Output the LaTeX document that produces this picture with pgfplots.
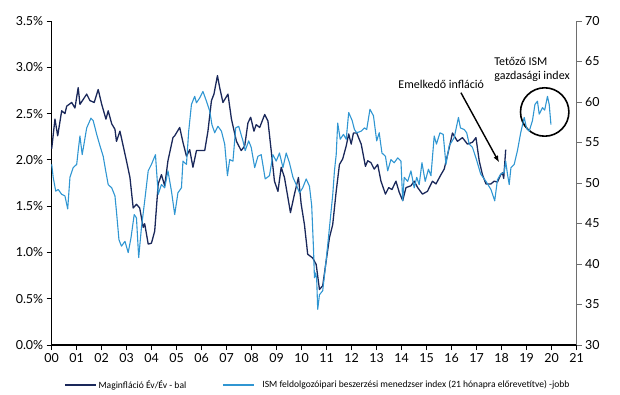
\documentclass[border=0pt]{standalone}
\usepackage{fontspec}
\setmainfont{Lato}
\newfontfamily\annot{Carlito}
\usepackage{pgfplots}
\pgfplotsset{compat=1.18}
\usetikzlibrary{arrows.meta}
\definecolor{darkline}{RGB}{26,40,90}
\definecolor{lightline}{RGB}{48,150,210}
\definecolor{raxis}{RGB}{110,110,110}

\begin{document}
\begin{tikzpicture}
\path[use as bounding box] (0bp,0bp) rectangle (620bp,395bp);
\pgfplotsset{
  common/.style={
    scale only axis, width=525bp, height=324bp,
    at={(51.7bp,50bp)}, anchor=south west,
    xmin=0, xmax=21,
    tick align=outside, major tick length=5bp,
    /pgf/number format/assume math mode=true,
    ticklabel style={font=\fontsize{12.5}{14}\selectfont},
    axis line style={-},
    clip=false,
  }
}
\begin{axis}[common,
  axis x line*=bottom, axis y line*=left,
  ymin=0, ymax=3.5,
  ytick={0,0.5,1,1.5,2,2.5,3,3.5},
  yticklabels={0.0\%,0.5\%,1.0\%,1.5\%,2.0\%,2.5\%,3.0\%,3.5\%},
  xtick={0,1,...,21},
  xticklabels={00,01,02,03,04,05,06,07,08,09,10,11,12,13,14,15,16,17,18,19,20,21},
  x axis line style={line width=1.6bp, black},
  y axis line style={line width=0.9bp, black},
  xtick style={black, line width=0.8bp},
  ytick style={black, line width=0.8bp},
]
\addplot[darkline, line width=1.3bp, line join=round, no marks] table {
0.00 2.12
0.13 2.44
0.24 2.26
0.40 2.53
0.53 2.50
0.60 2.58
0.80 2.62
0.93 2.56
1.06 2.78
1.13 2.60
1.40 2.71
1.53 2.64
1.70 2.62
1.86 2.76
2.00 2.60
2.17 2.44
2.26 2.53
2.40 2.39
2.53 2.33
2.59 2.20
2.73 2.31
2.86 2.15
2.99 1.99
3.13 1.81
3.26 1.48
3.39 1.52
3.52 1.48
3.66 1.27
3.72 1.31
3.86 1.09
3.99 1.10
4.12 1.23
4.26 1.74
4.39 1.84
4.52 1.72
4.65 1.99
4.85 2.24
4.92 2.26
5.12 2.35
5.25 2.19
5.39 2.04
5.52 2.11
5.65 1.92
5.79 2.10
6.12 2.10
6.25 2.31
6.39 2.64
6.49 2.71
6.63 2.91
6.72 2.78
6.85 2.62
7.05 2.71
7.19 2.44
7.39 2.20
7.58 2.10
7.72 2.15
7.85 2.40
7.96 2.46
8.09 2.31
8.18 2.38
8.32 2.35
8.52 2.49
8.65 2.42
8.78 2.10
8.91 1.77
9.05 1.66
9.18 1.92
9.31 1.81
9.45 1.59
9.55 1.43
9.71 1.63
9.87 1.81
9.98 1.52
10.11 1.30
10.24 0.98
10.44 0.94
10.58 0.87
10.71 0.60
10.84 0.64
10.98 0.91
11.11 1.16
11.24 1.30
11.38 1.66
11.51 1.95
11.64 2.01
11.78 2.15
11.88 2.28
11.98 2.17
12.07 2.29
12.20 2.29
12.38 2.17
12.55 1.93
12.64 1.99
12.77 1.97
12.90 1.90
13.04 1.95
13.17 1.77
13.35 1.63
13.48 1.70
13.61 1.68
13.77 1.77
13.90 1.65
14.04 1.56
14.17 1.70
14.37 1.72
14.50 1.77
14.64 1.70
14.83 1.63
15.03 1.66
15.23 1.77
15.37 1.74
15.57 1.84
15.70 1.90
15.90 2.13
16.03 2.29
16.23 2.20
16.43 2.24
16.63 2.17
16.83 2.19
16.97 2.24
17.10 1.99
17.23 1.84
17.37 1.74
17.57 1.74
17.70 1.77
17.83 1.76
17.96 1.84
18.03 1.86
18.08 1.80
18.16 2.11
};
% annotations
\node[font=\annot\fontsize{12}{14}\selectfont, anchor=center] at (axis cs:15.58,2.82) {Emelkedő infláció};
\draw[black, line width=1.4bp, -{Latex[length=7bp,width=5bp]}] (axis cs:16.37,2.725) -- (axis cs:17.90,1.97);
\node[font=\annot\fontsize{12}{13.5}\selectfont, anchor=west, align=left, inner sep=0pt] at (axis cs:17.70,2.977) {Tetőző ISM\\gazdasági index};
\draw[black, line width=1.6bp] (axis cs:19.72,2.517) circle[radius=24.2bp];
\end{axis}

\begin{axis}[common,
  axis x line=none, axis y line*=right,
  ymin=30, ymax=70,
  ytick={30,35,...,70},
  y axis line style={line width=0.9bp, raxis},
  ytick style={raxis, line width=0.8bp},
  legend style={at={(0.507,-0.1235)}, anchor=center, draw=none, fill=none,
    legend columns=2, font=\annot\fontsize{9.6}{10}\selectfont,
    /tikz/every even column/.append style={column sep=34bp}},
  legend cell align=left,
  legend image code/.code={\draw[#1] (0bp,0bp) -- (31bp,0bp);},
]
\addlegendimage{darkline, line width=1.3bp}
\addlegendentry{Maginfláció Év/Év - bal}
\addplot[lightline, line width=1.1bp, line join=round, no marks] table {
0.00 52.3
0.06 50.7
0.16 49.0
0.26 49.2
0.40 48.6
0.53 48.4
0.64 46.8
0.73 50.7
0.86 51.9
1.00 52.3
1.06 54.0
1.13 55.8
1.22 53.5
1.40 56.8
1.57 58.0
1.66 57.7
1.80 56.0
1.93 54.6
2.06 53.3
2.16 51.5
2.26 49.8
2.40 49.4
2.53 48.4
2.59 46.5
2.69 43.0
2.79 42.2
2.93 42.8
3.06 41.4
3.17 43.2
3.30 46.1
3.39 45.7
3.48 40.8
3.59 44.5
3.72 47.8
3.86 51.5
3.99 52.3
4.15 53.5
4.26 48.6
4.39 49.8
4.52 49.4
4.65 51.5
4.79 49.0
4.92 46.1
5.05 48.8
5.19 49.4
5.25 52.7
5.39 52.3
5.48 56.4
5.59 59.7
5.72 60.7
5.79 59.9
5.92 60.5
6.05 61.3
6.19 60.1
6.32 58.9
6.41 57.2
6.52 56.2
6.65 57.0
6.79 56.4
6.92 54.8
7.03 50.9
7.12 52.9
7.25 52.7
7.36 56.8
7.48 57.0
7.65 55.2
7.74 54.0
7.88 55.2
7.98 54.4
8.12 51.9
8.25 53.3
8.38 53.5
8.54 50.5
8.71 50.9
8.85 53.5
8.98 52.7
9.11 53.7
9.25 51.9
9.38 53.7
9.51 52.5
9.65 50.7
9.78 49.8
9.91 48.8
10.04 49.4
10.18 50.5
10.31 49.6
10.40 47.2
10.47 42.0
10.51 38.3
10.56 38.9
10.60 38.1
10.64 34.4
10.71 36.2
10.84 36.7
10.98 40.5
11.11 44.5
11.24 48.5
11.31 51.5
11.38 53.5
11.44 57.4
11.54 55.4
11.67 56.0
11.78 55.4
11.88 58.7
12.02 57.7
12.11 56.6
12.20 56.2
12.38 56.4
12.51 56.8
12.60 56.6
12.73 59.1
12.87 58.3
13.00 55.2
13.10 56.2
13.21 53.7
13.35 53.3
13.44 51.5
13.57 52.9
13.70 52.5
13.84 53.1
13.97 52.7
14.04 47.8
14.10 50.7
14.24 50.2
14.37 51.5
14.50 49.4
14.60 50.7
14.70 49.8
14.81 52.5
14.94 50.2
15.07 51.7
15.17 50.9
15.30 55.8
15.39 54.8
15.53 56.2
15.66 56.0
15.77 52.3
15.90 54.6
16.10 55.6
16.27 58.1
16.35 56.8
16.50 56.6
16.60 56.2
16.70 54.8
16.83 54.4
16.97 53.1
17.16 51.1
17.37 50.2
17.57 49.2
17.72 47.8
17.83 50.4
17.96 51.1
18.10 51.3
18.16 52.7
18.23 51.1
18.30 49.8
18.37 51.9
18.50 52.3
18.63 54.0
18.76 56.2
18.90 58.1
18.99 56.8
19.10 56.4
19.23 57.7
19.33 59.7
19.43 60.1
19.50 58.5
19.63 59.3
19.72 59.0
19.83 60.7
19.90 59.7
19.97 57.2
};
\addlegendentry{\hspace*{6bp}ISM feldolgozóipari beszerzési menedzser index (21 hónapra előrevetítve) -jobb}
\end{axis}
\end{tikzpicture}
\end{document}
